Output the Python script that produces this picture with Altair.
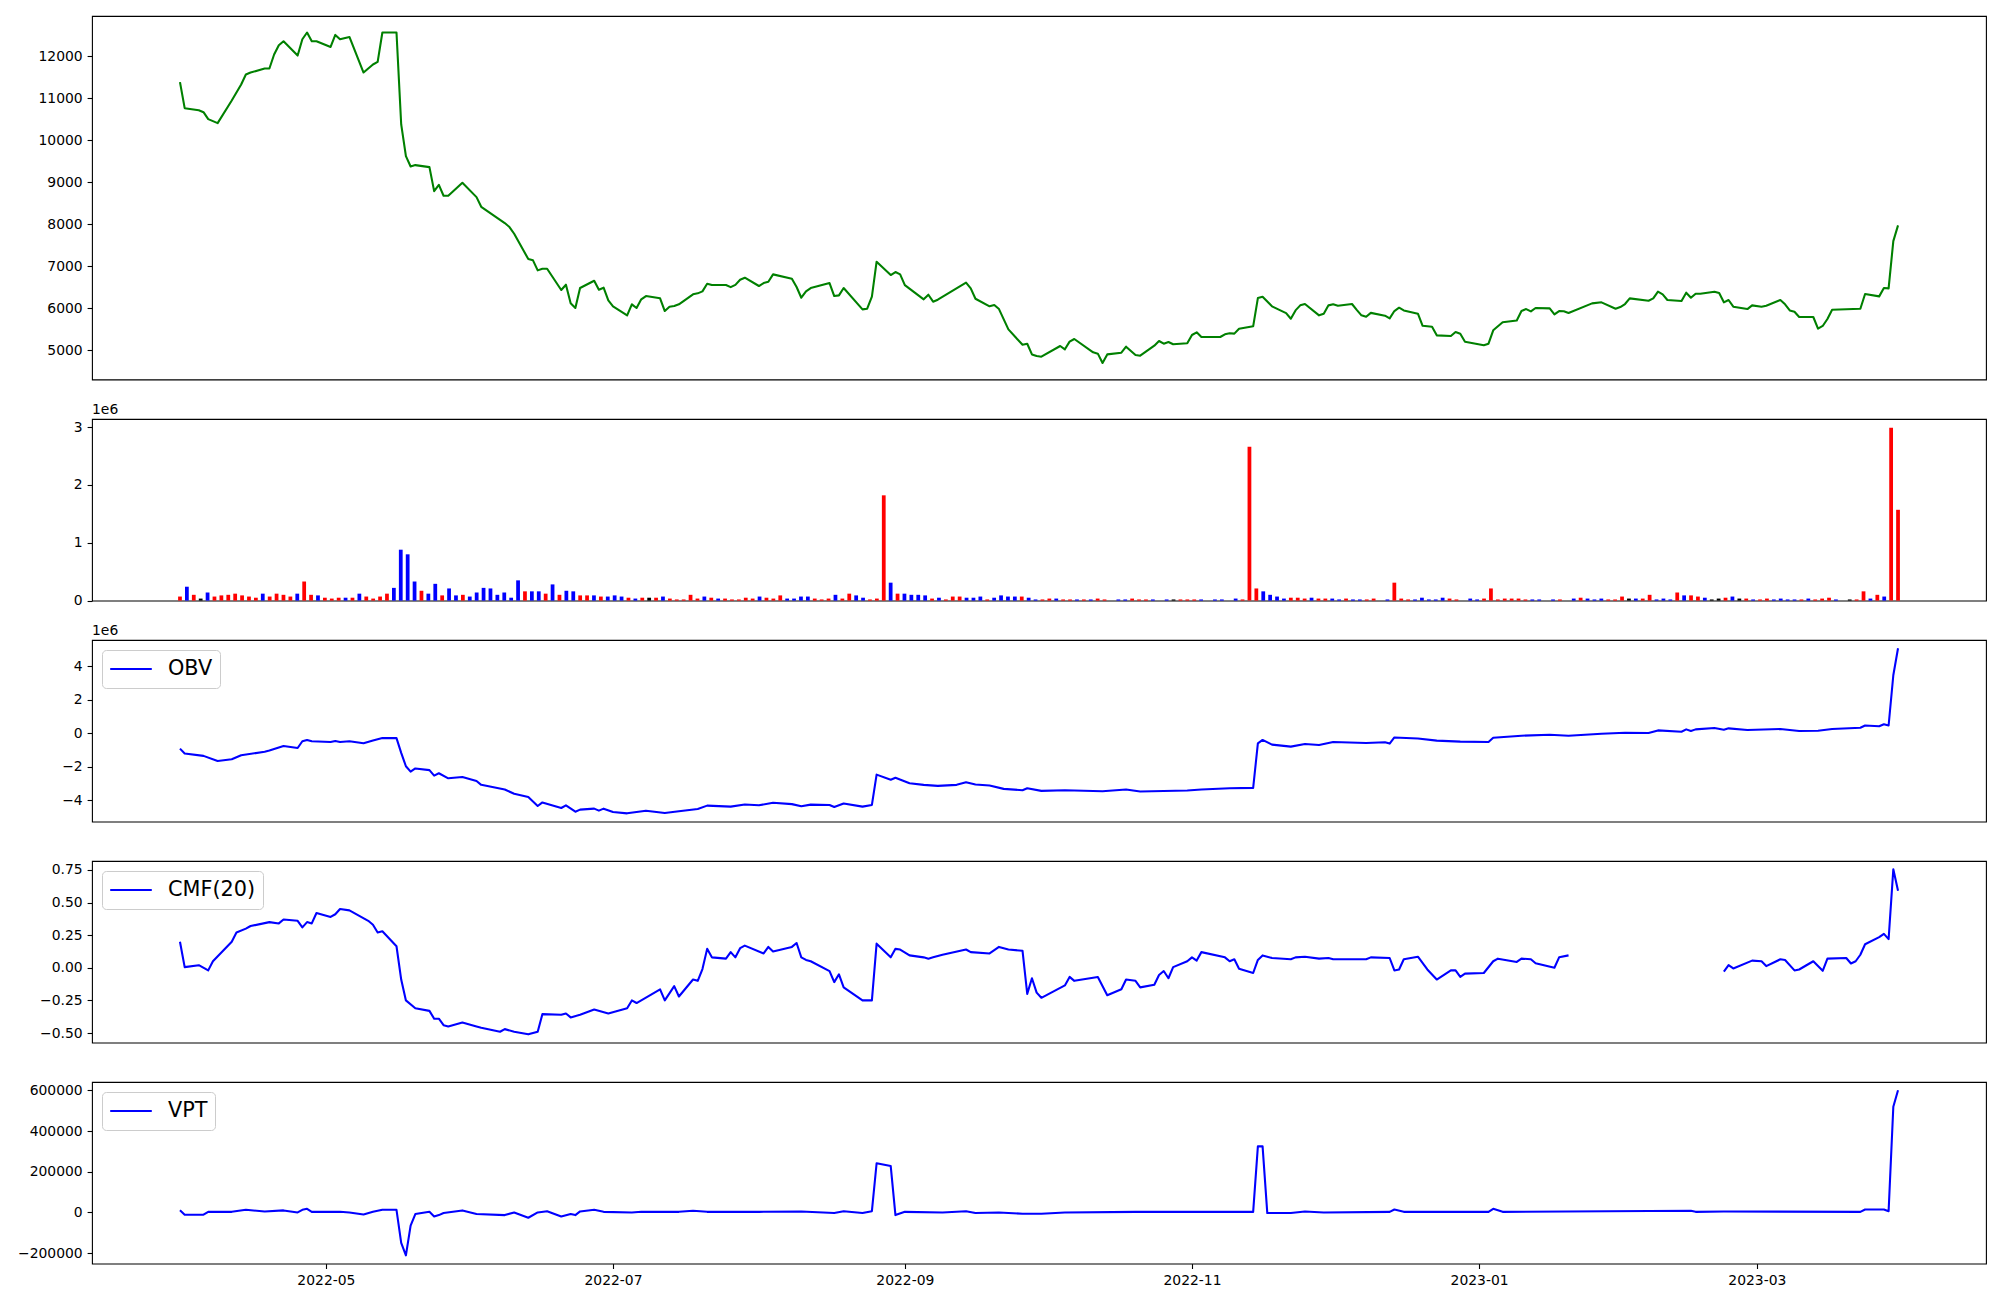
import altair as alt
import pandas as pd

FONT = "DejaVu Sans"


def D(month, *days):
    return [f"{month}-{d:02d}" for d in days]


# ---------------- Close price ----------------
price_dates = (
    D("2022-03", 31)
    + D("2022-04", 1, 4, 5, 6, 8, 11, 13, 14, 15, 18, 19, 20, 21, 22, 25, 26, 27, 28, 29)
    + D("2022-05", 2, 3, 4, 6, 9, 11, 12, 13, 16, 17, 18, 19, 20, 23, 24, 25, 26, 27, 30)
    + D("2022-06", 2, 3, 8, 9, 10, 13, 14, 15, 16, 17, 20, 21, 22, 23, 24, 27, 28, 29, 30)
    + D("2022-07", 1, 4, 5, 6, 7, 8, 11, 12, 13, 14, 15, 18, 19, 20, 21, 22, 25, 26, 27, 28, 29)
    + D("2022-08", 1, 2, 3, 4, 8, 9, 10, 11, 12, 16, 17, 18, 19, 23, 24, 25, 26, 29, 30, 31)
    + D("2022-09", 1, 5, 6, 7, 8, 14, 15, 16, 19, 20, 21, 23, 26, 27, 28, 29, 30)
    + D("2022-10", 4, 5, 6, 7, 11, 12, 13, 14, 17, 18, 20, 21, 24, 25, 26, 27, 28, 31)
    + D("2022-11", 1, 2, 3, 7, 8, 9, 10, 11, 14, 15, 16, 18, 21, 22, 23, 24, 25, 28, 29, 30)
    + D("2022-12", 1, 2, 5, 6, 7, 8, 9, 12, 13, 14, 15, 16, 19, 20, 22, 23, 26, 27, 28, 29)
    + D("2023-01", 2, 3, 4, 6, 9, 10, 11, 12, 13, 16, 17, 18, 19, 20, 25, 27, 30, 31)
    + D("2023-02", 1, 2, 6, 7, 8, 9, 10, 13, 14, 15, 16, 17, 20, 21, 22, 23, 24, 27, 28)
    + D("2023-03", 2, 3, 6, 7, 8, 9, 10, 13, 14, 15, 16, 17, 23, 24, 27, 28, 29, 30, 31)
)
price_close = (
    [11379]
    + [10761, 10713, 10666, 10500, 10405, 10943, 11324, 11562, 11609, 11704, 11704, 12037, 12258, 12353, 12013, 12400, 12560, 12353, 12353]
    + [12217, 12503, 12400, 12455, 11609, 11799, 11861, 12560, 12560, 10374, 9620, 9375, 9407, 9359, 8789, 8939, 8678, 8678, 8986]
    + [8646, 8416, 8029, 7934, 7775, 7173, 7142, 6904, 6943, 6943, 6437, 6563, 6120, 6009, 6484, 6658, 6444, 6492, 6191]
    + [6049, 5835, 6097, 6009, 6215, 6294, 6239, 5937, 6040, 6056, 6097, 6334, 6358, 6405, 6586, 6555, 6555, 6505, 6560, 6682, 6730]
    + [6532, 6603, 6634, 6809, 6706, 6508, 6254, 6405, 6484, 6603, 6294, 6310, 6484, 5976, 5992, 6278, 7110, 6793, 6865, 6809]
    + [6555, 6215, 6325, 6159, 6207, 6611, 6476, 6230, 6049, 6080, 5984, 5500, 5135, 5159, 4906, 4868, 4852]
    + [5106, 5027, 5209, 5272, 4956, 4924, 4702, 4906, 4947, 5090, 4892, 4876, 5114, 5225, 5161, 5201, 5146, 5170]
    + [5367, 5431, 5320, 5320, 5384, 5407, 5400, 5518, 5574, 6246, 6278, 6049, 5888, 5754, 5952, 6072, 6104, 5835, 5873, 6072]
    + [6097, 6064, 6104, 5965, 5835, 5800, 5893, 5827, 5763, 5937, 6016, 5952, 5873, 5587, 5565, 5359, 5343, 5439, 5399, 5209]
    + [5122, 5161, 5479, 5670, 5713, 5937, 5984, 5928, 6009, 6001, 5857, 5937, 5930, 5890, 6120, 6144, 5992, 6032]
    + [6104, 6238, 6183, 6238, 6397, 6334, 6199, 6175, 6373, 6254, 6350, 6350, 6397, 6366, 6144, 6199, 6040, 5984, 6072]
    + [6040, 6064, 6199, 6097, 5952, 5920, 5795, 5795, 5518, 5582, 5748, 5968, 5992, 6342, 6286, 6484, 6476, 7600, 7973]
)

# ---------------- Volume (1e6): 250 evenly spaced bars, in order ----------------
volume = (
    [0.07, 0.24, 0.10, 0.035, 0.14, 0.07, 0.09, 0.10, 0.12, 0.09,
     0.07, 0.05, 0.12, 0.07, 0.12, 0.10, 0.07, 0.12, 0.33, 0.10,
     0.09, 0.05, 0.035, 0.05, 0.05, 0.05, 0.12, 0.07, 0.035, 0.07,
     0.12, 0.22, 0.88, 0.80, 0.33, 0.17, 0.12, 0.29, 0.09, 0.21,
     0.09, 0.10, 0.07, 0.14, 0.22, 0.21, 0.10, 0.14, 0.05, 0.35,
     0.16, 0.16, 0.16, 0.12, 0.28, 0.10, 0.17, 0.16, 0.09, 0.09,
     0.09, 0.07, 0.07, 0.09, 0.07, 0.05, 0.035, 0.05, 0.05, 0.05,
     0.07, 0.035, 0.02, 0.02, 0.10, 0.035, 0.07, 0.05, 0.035]
    + [0.035, 0.02, 0.02, 0.05, 0.035, 0.07, 0.05, 0.035, 0.09, 0.035,
       0.035, 0.07, 0.07, 0.035, 0.02, 0.035, 0.10, 0.035, 0.12, 0.09,
       0.05, 0.02, 0.035, 1.82, 0.31, 0.12, 0.12, 0.10, 0.10, 0.09,
       0.035, 0.05, 0.02, 0.07, 0.07, 0.05, 0.05, 0.07, 0.02, 0.05,
       0.09, 0.07, 0.07, 0.07, 0.05, 0.02, 0.02, 0.035, 0.035, 0.02,
       0.02, 0.02, 0.02, 0.02, 0.035, 0.02, 0.0,
       0.02, 0.02, 0.035, 0.02, 0.02, 0.02, 0.0,
       0.02, 0.02, 0.02, 0.02, 0.02, 0.02, 0.0,
       0.02, 0.02, 0.0,
       0.035, 0.02, 2.66, 0.21, 0.16, 0.10, 0.07, 0.035, 0.05, 0.05,
       0.035, 0.05, 0.035, 0.035, 0.035, 0.02, 0.035]
    + [0.02, 0.02, 0.02, 0.035, 0.0,
       0.02, 0.31, 0.035, 0.02, 0.02, 0.05, 0.02, 0.02, 0.05, 0.035, 0.02, 0.0,
       0.035, 0.02, 0.035, 0.21, 0.02, 0.035, 0.035, 0.035, 0.02, 0.02, 0.02, 0.0,
       0.02, 0.02, 0.0,
       0.035, 0.05, 0.035, 0.02, 0.035, 0.02, 0.02, 0.07, 0.035, 0.035,
       0.035, 0.10, 0.02, 0.035, 0.02, 0.14, 0.09, 0.09, 0.07, 0.05,
       0.02, 0.035, 0.05, 0.07, 0.035, 0.035, 0.02, 0.02, 0.035, 0.02,
       0.035, 0.02, 0.02, 0.02, 0.035, 0.02, 0.035, 0.05, 0.02, 0.0,
       0.02, 0.02, 0.16, 0.035, 0.10, 0.07, 2.99, 1.57]
)
# r = up day (red), b = down day (blue), k = unchanged (black)
vol_dir = "".join([
    "rbrkbrrrrr", "rrbrrrrbrr", "brrrbrbrrr", "rbbbbrbbrb", "brbbbbbbbb",
    "rbbrbrbbrr", "brbbbrbrkr", "brrrrrbrb",
    "rrrrrbrrrb", "bbbrrrbrrb", "brrrbrbbbb", "rbrrrbbbrb", "bbbrbbrrbr",
    "rbrbrr", "k", "bbrrrb", "k", "bkrrrb", "k", "bb", "k", "brrrbbbbrrrbrrbbr",
    "bbrr", "k", "brrrbbbbbrr", "k", "bbrrrrrrrbb", "k", "br", "k",
    "brbbbrrrkbrrbbbrbrrbkkrbkrbrrbbbbrbrrrb", "k", "krrbrbrr",
])

# ---------------- OBV (1e6) ----------------
obv_dates = (
    D("2022-03", 31)
    + D("2022-04", 1, 5, 8, 11, 13, 18, 19, 22, 25, 26, 27, 28)
    + D("2022-05", 2, 3, 4, 6, 9, 11, 13, 16, 17, 18, 19, 20, 23, 24, 25, 27, 30)
    + D("2022-06", 2, 3, 8, 10, 13, 15, 16, 20, 21, 23, 24, 27, 28, 29)
    + D("2022-07", 1, 4, 6, 8, 12, 15, 19, 21, 26, 29)
    + D("2022-08", 1, 4, 8, 10, 12, 16, 17, 19, 23, 25, 26, 29, 30)
    + D("2022-09", 2, 5, 8, 12, 14, 16, 19, 22, 26, 27, 30)
    + D("2022-10", 5, 13, 18, 21, 31)
    + D("2022-11", 3, 9, 14, 15, 16, 18, 22, 25, 28)
    + D("2022-12", 1, 8, 12, 13, 14, 19, 23, 28)
    + D("2023-01", 3, 4, 10, 16, 20, 27)
    + D("2023-02", 1, 6, 8, 13, 14, 15, 16, 20, 22, 23, 27)
    + D("2023-03", 6, 10, 14, 17, 23, 24, 27, 28, 29, 30, 31)
)
obv_vals = (
    [-0.93]
    + [-1.22, -1.36, -1.67, -1.56, -1.32, -1.12, -1.04, -0.77, -0.89, -0.49, -0.41, -0.49]
    + [-0.53, -0.47, -0.53, -0.49, -0.61, -0.45, -0.30, -0.30, -1.18, -1.98, -2.30, -2.11, -2.21, -2.54, -2.40, -2.70, -2.62]
    + [-2.86, -3.09, -3.37, -3.62, -3.82, -4.35, -4.14, -4.47, -4.31, -4.69, -4.57, -4.51, -4.63, -4.51]
    + [-4.71, -4.79, -4.71, -4.63, -4.77, -4.67, -4.53, -4.33, -4.39, -4.26]
    + [-4.31, -4.16, -4.24, -4.37, -4.27, -4.29, -4.41, -4.20, -4.39, -4.29, -2.48, -2.79, -2.67]
    + [-2.99, -3.09, -3.15, -3.09, -2.94, -3.07, -3.13, -3.33, -3.41, -3.29, -3.45]
    + [-3.41, -3.47, -3.37, -3.49, -3.43]
    + [-3.37, -3.29, -3.27, -0.61, -0.41, -0.69, -0.81, -0.65, -0.71]
    + [-0.53, -0.59, -0.55, -0.63, -0.26, -0.32, -0.45, -0.51]
    + [-0.53, -0.28, -0.16, -0.10, -0.16, -0.04]
    + [0.02, 0.00, 0.16, 0.08, 0.22, 0.12, 0.22, 0.30, 0.20, 0.28, 0.18]
    + [0.24, 0.12, 0.14, 0.24, 0.32, 0.45, 0.41, 0.53, 0.45, 3.45, 5.06]
)

# ---------------- CMF(20) (None = undefined) ----------------
cmf_dates = (
    D("2022-03", 31)
    + D("2022-04", 1, 4, 6, 7, 11, 12, 14, 15, 19, 21, 22, 25, 26, 27, 28, 29)
    + D("2022-05", 2, 3, 4, 6, 10, 11, 12, 13, 16, 17, 18, 20, 23, 24, 25, 26, 27, 30)
    + D("2022-06", 2, 3, 7, 8, 10, 13, 15, 16, 20, 21, 22, 24, 27, 30)
    + D("2022-07", 4, 5, 6, 11, 12, 14, 15, 18, 19, 20, 21, 22, 25, 26, 27, 28, 29)
    + D("2022-08", 2, 3, 4, 8, 9, 10, 11, 12, 16, 17, 18, 19, 23, 25, 26, 29, 30, 31)
    + D("2022-09", 2, 5, 6, 7, 9, 14, 15, 19, 21, 23, 26, 27, 28, 29, 30)
    + D("2022-10", 5, 6, 7, 12, 14, 17, 18, 20, 21, 24, 25, 26, 27, 28, 31)
    + D("2022-11", 1, 2, 3, 8, 9, 10, 11, 14, 15, 16, 18, 22, 23, 25, 28, 30)
    + D("2022-12", 1, 8, 9, 13, 14, 15, 16, 19, 21, 23, 26, 27, 28, 29)
    + D("2023-01", 2, 4, 5, 9, 10, 12, 13, 17, 18, 20, 23)
    + D("2023-02", 22, 23, 24, 28)
    + D("2023-03", 2, 3, 6, 7, 9, 10, 13, 15, 16, 20, 21, 22, 23, 24, 27, 28, 29, 30, 31)
)
cmf_vals = (
    [0.20]
    + [0.005, 0.02, -0.02, 0.05, 0.20, 0.27, 0.30, 0.32, 0.35, 0.34, 0.37, 0.36, 0.31, 0.35, 0.34, 0.42]
    + [0.39, 0.41, 0.45, 0.44, 0.36, 0.33, 0.27, 0.28, 0.165, -0.09, -0.25, -0.31, -0.33, -0.39, -0.39, -0.44, -0.45, -0.42]
    + [-0.45, -0.46, -0.49, -0.47, -0.49, -0.51, -0.49, -0.355, -0.36, -0.35, -0.38, -0.36, -0.32, -0.35]
    + [-0.31, -0.25, -0.27, -0.165, -0.25, -0.14, -0.22, -0.09, -0.10, -0.01, 0.145, 0.08, 0.07, 0.12, 0.08, 0.15, 0.17]
    + [0.11, 0.16, 0.125, 0.16, 0.19, 0.08, 0.06, 0.05, -0.025, -0.11, -0.05, -0.15, -0.25, -0.25, 0.185, 0.08, 0.145, 0.14]
    + [0.095, 0.08, 0.07, 0.08, 0.10, 0.14, 0.12, 0.11, 0.16, 0.14, 0.13, -0.20, -0.08, -0.19, -0.23]
    + [-0.135, -0.07, -0.10, -0.07, -0.21, -0.165, -0.09, -0.10, -0.15, -0.13, -0.055, -0.025, -0.08, 0.005, 0.05]
    + [0.08, 0.055, 0.12, 0.08, 0.05, 0.065, -0.008, -0.04, 0.06, 0.095, 0.075, 0.065, 0.08, 0.085, 0.07, 0.075]
    + [0.065, 0.065, 0.08, 0.075, -0.02, -0.013, 0.065, 0.085, -0.013, -0.09, -0.02, -0.02, -0.07, -0.045]
    + [-0.04, 0.05, 0.07, 0.045, 0.07, 0.065, 0.035, 0.0, 0.08, 0.095, None]
    + [-0.03, 0.02, -0.005, 0.055]
    + [0.05, 0.013, 0.065, 0.06, -0.02, -0.013, 0.05, -0.023, 0.07, 0.075, 0.033, 0.05, 0.10, 0.18, 0.235, 0.26, 0.22, 0.755, 0.59]
)

# ---------------- VPT ----------------
vpt_dates = (
    D("2022-03", 31)
    + D("2022-04", 1, 5, 6, 11, 14, 18, 22, 25, 26, 27, 28)
    + D("2022-05", 4, 6, 9, 11, 13, 16, 17, 18, 19, 20, 23, 24, 25, 26, 30)
    + D("2022-06", 2, 8, 10, 13, 15, 17, 20, 22, 23, 24, 27, 29)
    + D("2022-07", 5, 7, 15, 18, 21)
    + D("2022-08", 1, 10, 17, 19, 23, 25, 26, 29, 30)
    + D("2022-09", 1, 9, 14, 16, 21, 26, 30)
    + D("2022-10", 5, 20)
    + D("2022-11", 14, 15, 16, 17, 22, 25, 29)
    + D("2022-12", 13, 14, 16)
    + D("2023-01", 3, 4, 6)
    + D("2023-02", 15, 16, 22)
    + D("2023-03", 23, 24, 28, 29, 30, 31)
)
vpt_vals = (
    [11000]
    + [-11000, -11000, 3000, 3000, 13000, 5000, 10000, 0, 13000, 18000, 3000]
    + [3000, 0, -10000, 3000, 13000, 13000, -150000, -211000, -65000, -8000, 3000, -19500, -13000, -3000, 10000]
    + [-8000, -13000, 0, -26000, 0, 6000, -19500, -8000, -13000, 5000, 13000, 3000]
    + [0, 3000, 3000, 8000, 3000]
    + [3000, 5000, -3000, 6000, -3000, 6000, 242000, 228000, -13000]
    + [3000, 0, 6000, -3000, 0, -6500, -6500]
    + [0, 3000]
    + [3000, 325000, 325000, -3000, -3000, 5000, 0]
    + [3000, 14600, 3000]
    + [3000, 18000, 3000]
    + [8000, 3000, 5000]
    + [3000, 14600, 14600, 6000, 520000, 601000]
)

# ---------------- tick values ----------------
price_ticks = [5000, 6000, 7000, 8000, 9000, 10000, 11000, 12000]
vol_ticks = [0, 1, 2, 3]
obv_ticks = [-4, -2, 0, 2, 4]
cmf_ticks = [-0.5, -0.25, 0.0, 0.25, 0.5, 0.75]
vpt_ticks = [-200000, 0, 200000, 400000, 600000]
x_ticks = ["2022-05-01", "2022-07-01", "2022-09-01", "2022-11-01", "2023-01-01", "2023-03-01"]

# ---------------- build ----------------
W = 1894
H_BIG = 363.5
H_SMALL = 181.6
DAY = 86400000


def ms(s):
    return int(pd.Timestamp(s, tz="UTC").value // 10**6)


T0, T1 = ms("2022-03-31"), ms("2023-03-31")

# bars: evenly spaced from the first to the last date, 0.8 day wide
n = min(len(volume), len(vol_dir))
step = (T1 - T0) / (n - 1)
centers = [T0 + i * step for i in range(n)]
vdf = pd.DataFrame({
    "x0": [c - 0.4 * DAY for c in centers],
    "x1": [c + 0.4 * DAY for c in centers],
    "vol": volume[:n],
    "dir": list(vol_dir[:n]),
})

x_start = T0 - 0.4 * DAY
x_end = T1 + 0.4 * DAY
x_pad = 0.05 * (x_end - x_start)
XSCALE = alt.Scale(type="utc", domain=[x_start - x_pad, x_end + x_pad])


def pad_domain(vals):
    v = [a for a in vals if a is not None]
    lo, hi = min(v), max(v)
    p = 0.05 * (hi - lo)
    return [lo - p, hi + p]


def line_df(dates, vals, name):
    m = min(len(dates), len(vals))
    df = pd.DataFrame({"date": dates[:m], "value": vals[:m]})
    df["seg"] = df["value"].isna().cumsum()
    df = df.dropna().copy()
    df["name"] = name
    return df


def y_enc(field, domain, ticks, fmt):
    return alt.Y(field, scale=alt.Scale(domain=domain, nice=False, zero=False),
                 axis=alt.Axis(values=ticks, format=fmt, title=None))


def legend():
    return alt.Legend(title=None, orient="top-left", offset=10, symbolType="stroke",
                      symbolSize=1730, symbolStrokeWidth=2.1, labelFontSize=20.8,
                      labelFont=FONT, labelColor="black", fillColor="white",
                      strokeColor="#cccccc", padding=7, cornerRadius=4,
                      clipHeight=24, labelOffset=15)


def offset_text():
    return alt.Chart(pd.DataFrame({"t": ["1e6"]})).mark_text(
        align="left", baseline="alphabetic", font=FONT, fontSize=13.9, color="black"
    ).encode(text="t:N", x=alt.value(0), y=alt.value(-5))


NOX = alt.X("date:T", scale=XSCALE, axis=None)

pdf = line_df(price_dates, price_close, "Close")
p_price = alt.Chart(pdf).mark_line(color="#008000", strokeWidth=2.08, strokeJoin="round").encode(
    x=NOX,
    y=y_enc("value:Q", pad_domain(price_close), price_ticks, "d"),
    detail="seg:N",
).properties(width=W, height=H_BIG)

p_vol_bars = alt.Chart(vdf).mark_bar().encode(
    x=alt.X("x0:T", scale=XSCALE, axis=None),
    x2="x1:T",
    y=alt.Y("vol:Q", scale=alt.Scale(domain=[0, max(volume) * 1.05], nice=False),
            axis=alt.Axis(values=vol_ticks, format="d", title=None)),
    y2=alt.datum(0),
    color=alt.Color("dir:N", scale=alt.Scale(domain=["r", "b", "k"],
                    range=["#ff0000", "#0000ff", "#000000"]), legend=None),
)
p_vol = alt.layer(p_vol_bars, offset_text()).properties(width=W, height=H_SMALL)


def ind_panel(dates, vals, name, ticks, fmt, with_offset=False, x_axis=False):
    df = line_df(dates, vals, name)
    if x_axis:
        xenc = alt.X("date:T", scale=XSCALE, title=None,
                     axis=alt.Axis(values=[ms(t) for t in x_ticks],
                                   labelExpr="utcFormat(datum.value, '%Y-%m')",
                                   labelFlush=False, title=None))
    else:
        xenc = NOX
    ln = alt.Chart(df).mark_line(strokeWidth=2.08, strokeJoin="round").encode(
        x=xenc,
        y=y_enc("value:Q", pad_domain(vals), ticks, fmt),
        color=alt.Color("name:N", scale=alt.Scale(domain=[name], range=["#0000ff"]),
                        legend=legend()),
        detail="seg:N",
    )
    if with_offset:
        return alt.layer(ln, offset_text()).properties(width=W, height=H_SMALL)
    return ln.properties(width=W, height=H_SMALL)


p_obv = ind_panel(obv_dates, obv_vals, "OBV", obv_ticks, "d", with_offset=True)
p_cmf = ind_panel(cmf_dates, cmf_vals, "CMF(20)", cmf_ticks, ".2f")
p_vpt = ind_panel(vpt_dates, vpt_vals, "VPT", vpt_ticks, "d", x_axis=True)

chart = (
    alt.vconcat(p_price, p_vol, p_obv, p_cmf, p_vpt, spacing=39, bounds="flush")
    .resolve_scale(x="independent", y="independent", color="independent")
    .resolve_legend(color="independent")
    .properties(padding={"left": 8, "top": 7, "right": 5, "bottom": 5})
    .configure(font=FONT)
    .configure_view(stroke="black", strokeWidth=1.1)
    .configure_axis(domain=False, grid=False, ticks=True, tickColor="black",
                    tickSize=4.9, tickWidth=1.1, labelFont=FONT, labelFontSize=13.9,
                    labelColor="black", labelPadding=4.9)
    .configure_axisY(minExtent=75, maxExtent=75)
)

chart.save("out.html", embed_options={"renderer": "svg", "actions": False})
